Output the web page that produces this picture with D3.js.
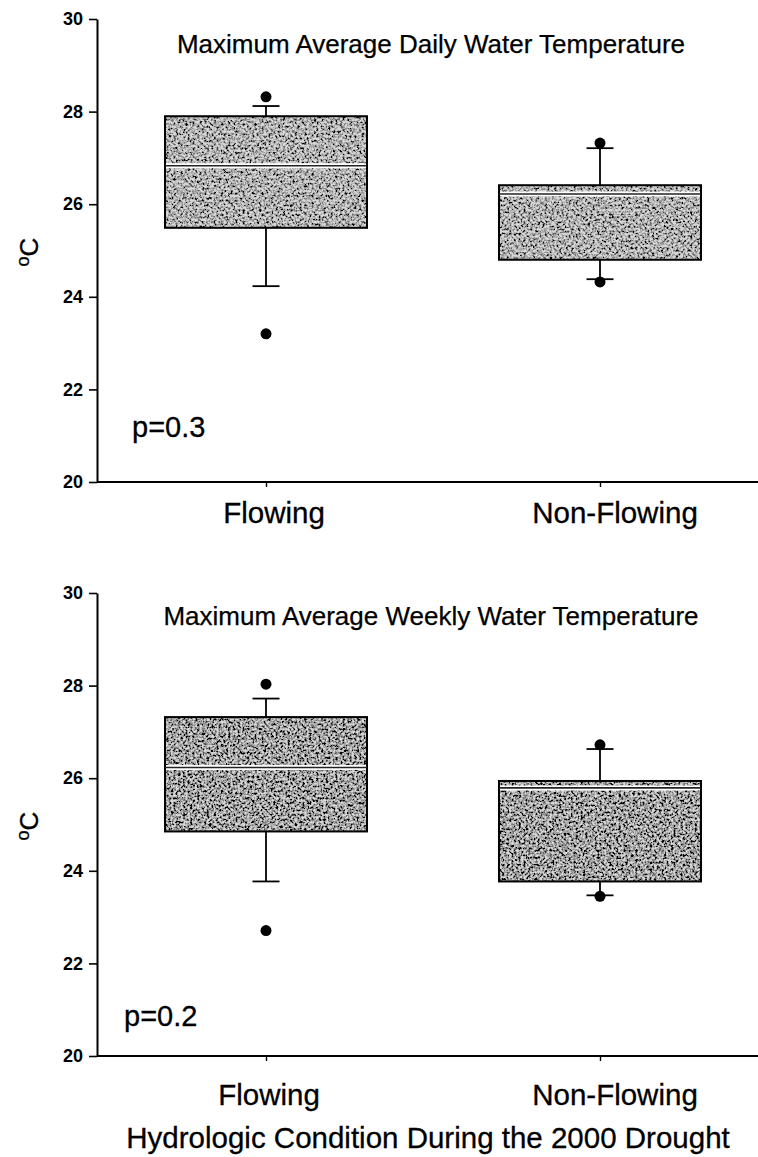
<!DOCTYPE html>
<html>
<head>
<meta charset="utf-8">
<script src="https://cdn.jsdelivr.net/npm/d3@7"></script>
<style>
  body { margin: 0; background: #fff; }
  svg { display: block; font-family: Arial, "Liberation Sans", sans-serif; }
</style>
</head>
<body>
<svg id="chart" width="758" height="1157"></svg>
<script>
const categories = ['Flowing', 'Non-Flowing']
const yTicks = [20, 22, 24, 26, 28, 30]
const panelTitles = ['Maximum Average Daily Water Temperature', 'Maximum Average Weekly Water Temperature']
const pLabels = ['p=0.3', 'p=0.2']
const xTitle = 'Hydrologic Condition During the 2000 Drought'

// box statistics per category (°C)
const dailyQ1 = [25.49, 24.80]
const dailyMedian = [26.83, 26.22]
const dailyQ3 = [27.90, 26.41]
const dailyWhiskerLow = [24.23, 24.38]
const dailyWhiskerHigh = [28.12, 27.21]
const dailyOutliers = [[28.32, 23.20], [27.32, 24.32]]

const weeklyQ1 = [24.85, 23.77]
const weeklyMedian = [26.23, 25.79]
const weeklyQ3 = [27.32, 25.94]
const weeklyWhiskerLow = [23.77, 23.47]
const weeklyWhiskerHigh = [27.72, 26.63]
const weeklyOutliers = [[28.03, 22.71], [26.72, 23.45]]

const panels = [
  { top: 19, bottom: 482, title: panelTitles[0], p: pLabels[0], titleY: 53, pX: 132, pY: 437, labelY: 523, shade: 0.36,
    stats: categories.map((c, i) => ({ c, q1: dailyQ1[i], med: dailyMedian[i], q3: dailyQ3[i], lo: dailyWhiskerLow[i], hi: dailyWhiskerHigh[i], out: dailyOutliers[i] })) },
  { top: 593, bottom: 1056, title: panelTitles[1], p: pLabels[1], titleY: 625, pX: 124, pY: 1026, labelY: 1105, shade: 0.48,
    stats: categories.map((c, i) => ({ c, q1: weeklyQ1[i], med: weeklyMedian[i], q3: weeklyQ3[i], lo: weeklyWhiskerLow[i], hi: weeklyWhiskerHigh[i], out: weeklyOutliers[i] })) }
]

const axisLeft = 97
const axisRight = 758
const boxWidth = 202
const capWidth = 27

const svg = d3.select('#chart')
const defs = svg.append('defs')

// speckled grey fill, like the scanned stipple in the original
panels.forEach((p, k) => {
  const f = defs.append('filter').attr('id', `grain${k}`)
    .attr('x', 0).attr('y', 0).attr('width', 1).attr('height', 1)
  f.append('feTurbulence').attr('type', 'fractalNoise').attr('baseFrequency', 0.42)
    .attr('numOctaves', 3).attr('seed', 7 + k).attr('result', 'noise')
  f.append('feColorMatrix').attr('in', 'noise').attr('type', 'matrix')
    .attr('values', `0 0 0 0 0  0 0 0 0 0  0 0 0 0 0  3 0 0 0 ${p.shade - 1.5}`)
    .attr('result', 'dots')
  f.append('feComposite').attr('in', 'dots').attr('in2', 'SourceGraphic').attr('operator', 'in').attr('result', 'clipped')
  const m = f.append('feMerge')
  m.append('feMergeNode').attr('in', 'SourceGraphic')
  m.append('feMergeNode').attr('in', 'clipped')
})

panels.forEach((p, k) => {
  const y = d3.scaleLinear().domain([20, 30]).range([p.bottom, p.top])
  const x = d3.scalePoint().domain(categories).range([266, 600])
  const g = svg.append('g')

  // y axis
  const yAxis = d3.axisLeft(y).tickValues(yTicks).tickSize(8).tickSizeOuter(0).tickPadding(6)
  const ya = g.append('g').attr('transform', `translate(${axisLeft},0)`).call(yAxis)
  ya.select('.domain').attr('stroke-width', 2)
  ya.selectAll('.tick line').attr('stroke-width', 1.6)
  ya.selectAll('.tick text').attr('font-size', 18).attr('font-weight', 'bold')
    .attr('font-family', 'Arial, "Liberation Sans", sans-serif').attr('fill', '#000')

  // x axis
  const xAxis = d3.axisBottom(x).tickSize(5).tickSizeOuter(0).tickFormat('')
  const xa = g.append('g').attr('transform', `translate(0,${p.bottom})`).call(xAxis)
  xa.select('.domain').attr('d', `M${axisLeft},0H${axisRight}`).attr('stroke-width', 2.2)
  xa.selectAll('.tick line').attr('stroke-width', 1.4)

  // category labels
  g.selectAll('text.cat').data(categories).enter().append('text')
    .attr('class', 'cat')
    .attr('x', (d, i) => x(d) + (i ? 15 : 8 - k * 5))
    .attr('y', p.labelY)
    .attr('text-anchor', 'middle')
    .attr('font-size', 29.5)
    .attr('stroke', '#000').attr('stroke-width', 0.3)
    .text(d => d)

  // title and p value
  g.append('text').attr('x', 431).attr('y', p.titleY).attr('text-anchor', 'middle')
    .attr('font-size', 26).attr('stroke', '#000').attr('stroke-width', 0.25).text(p.title)
  g.append('text').attr('x', p.pX).attr('y', p.pY).attr('font-size', 29)
    .attr('stroke', '#000').attr('stroke-width', 0.3).text(p.p)

  // y label °C with raised o
  const yl = g.append('text').attr('transform', `translate(38,${p.top + 233}) rotate(-90)`)
    .attr('text-anchor', 'middle').attr('font-size', 26).attr('stroke', '#000').attr('stroke-width', 0.3)
  yl.append('tspan').attr('font-size', 18).attr('dy', -9).text('o')
  yl.append('tspan').attr('dy', 9).text('C')

  // boxes
  const box = g.selectAll('g.box').data(p.stats).enter().append('g').attr('class', 'box')
  box.append('line')
    .attr('x1', d => x(d.c)).attr('x2', d => x(d.c))
    .attr('y1', d => y(d.hi)).attr('y2', d => y(d.lo))
    .attr('stroke', '#000').attr('stroke-width', 1.8)
  box.selectAll('line.cap').data(d => [d.lo, d.hi].map(v => ({ c: d.c, v }))).enter().append('line')
    .attr('class', 'cap')
    .attr('x1', d => x(d.c) - capWidth / 2).attr('x2', d => x(d.c) + capWidth / 2)
    .attr('y1', d => y(d.v)).attr('y2', d => y(d.v))
    .attr('stroke', '#000').attr('stroke-width', 1.8)
  box.append('rect')
    .attr('x', d => x(d.c) - boxWidth / 2).attr('width', boxWidth)
    .attr('y', d => y(d.q3)).attr('height', d => y(d.q1) - y(d.q3))
    .attr('fill', '#d8d8d8').attr('filter', `url(#grain${k})`)
  box.append('rect')
    .attr('x', d => x(d.c) - boxWidth / 2).attr('width', boxWidth)
    .attr('y', d => y(d.q3)).attr('height', d => y(d.q1) - y(d.q3))
    .attr('fill', 'none').attr('stroke', '#000').attr('stroke-width', 2)
  box.append('line')
    .attr('x1', d => x(d.c) - boxWidth / 2 + 1).attr('x2', d => x(d.c) + boxWidth / 2 - 1)
    .attr('y1', d => y(d.med)).attr('y2', d => y(d.med))
    .attr('stroke', '#fff').attr('stroke-width', 5)
  box.append('line')
    .attr('x1', d => x(d.c) - boxWidth / 2).attr('x2', d => x(d.c) + boxWidth / 2)
    .attr('y1', d => y(d.med)).attr('y2', d => y(d.med))
    .attr('stroke', '#222').attr('stroke-width', 1.6)
  box.selectAll('circle').data(d => d.out.map(v => ({ c: d.c, v }))).enter().append('circle')
    .attr('cx', d => x(d.c)).attr('cy', d => y(d.v)).attr('r', 5.5).attr('fill', '#000')
})

svg.append('text').attr('x', 428).attr('y', 1148).attr('text-anchor', 'middle')
  .attr('font-size', 29.5).attr('stroke', '#000').attr('stroke-width', 0.3).text(xTitle)
</script>
</body>
</html>
